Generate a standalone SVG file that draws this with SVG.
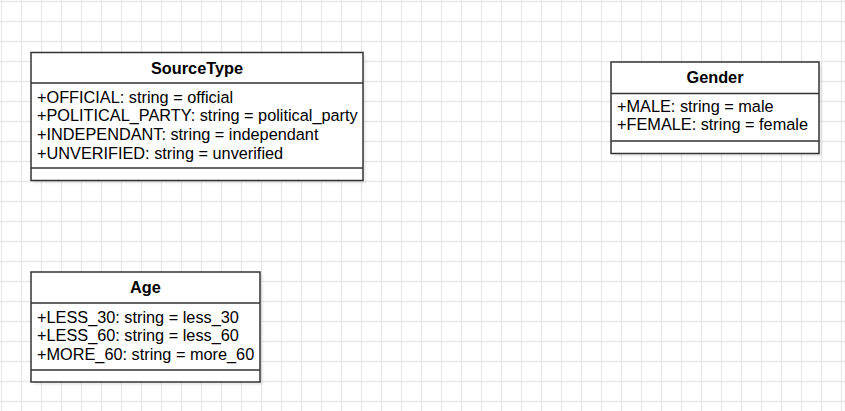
<svg xmlns="http://www.w3.org/2000/svg" width="845" height="411" viewBox="0 0 845 411">
<defs>
<pattern id="grid" x="0" y="0" width="20" height="20" patternUnits="userSpaceOnUse">
<path d="M1.5 0V20M0 1.5H20" stroke="#e8e8e8" stroke-width="1.3" fill="none"/>
</pattern>
<filter id="sh" x="-10%" y="-10%" width="130%" height="130%">
<feGaussianBlur stdDeviation="1"/>
</filter>
<style>
.shadow{fill:#000;opacity:0.07;filter:url(#sh)}
.box{fill:#fff;stroke:#333;stroke-width:1.5}
.div{stroke:#333;stroke-width:1.5;fill:none}
.title{font-family:"Liberation Sans",Arial,sans-serif;font-size:16.3px;font-weight:bold;fill:#000;text-anchor:middle}
.attr{font-family:"Liberation Sans",Arial,sans-serif;font-size:16.3px;fill:#000}
</style>
</defs>
<rect width="845" height="411" fill="#fff"/>
<rect width="845" height="411" fill="url(#grid)"/>

<g id="SourceType">
<rect class="shadow" x="34" y="55.5" width="332" height="128"/>
<rect class="box" x="31" y="52.5" width="332" height="128"/>
<line class="div" x1="31" y1="83" x2="363" y2="83"/>
<line class="div" x1="31" y1="168" x2="363" y2="168"/>
<text class="title" x="197" y="73.5">SourceType</text>
<text class="attr" x="37" y="102.5">+OFFICIAL: string = official</text>
<text class="attr" x="37" y="121.3">+POLITICAL_PARTY: string = political_party</text>
<text class="attr" x="37" y="140.1">+INDEPENDANT: string = independant</text>
<text class="attr" x="37" y="158.9">+UNVERIFIED: string = unverified</text>
</g>

<g id="Gender">
<rect class="shadow" x="614" y="65" width="208" height="91.5"/>
<rect class="box" x="611" y="62" width="208" height="91.5"/>
<line class="div" x1="611" y1="93.5" x2="819" y2="93.5"/>
<line class="div" x1="611" y1="141" x2="819" y2="141"/>
<text class="title" x="715" y="82.8">Gender</text>
<text class="attr" x="617" y="111.7">+MALE: string = male</text>
<text class="attr" x="617" y="130.2">+FEMALE: string = female</text>
</g>

<g id="Age">
<rect class="shadow" x="34" y="275" width="229" height="110"/>
<rect class="box" x="31" y="272" width="229" height="110"/>
<line class="div" x1="31" y1="303" x2="260" y2="303"/>
<line class="div" x1="31" y1="370" x2="260" y2="370"/>
<text class="title" x="145.5" y="292.5">Age</text>
<text class="attr" x="37" y="322.5">+LESS_30: string = less_30</text>
<text class="attr" x="37" y="341">+LESS_60: string = less_60</text>
<text class="attr" x="37" y="359.5">+MORE_60: string = more_60</text>
</g>

<g id="connectors"></g>
</svg>
